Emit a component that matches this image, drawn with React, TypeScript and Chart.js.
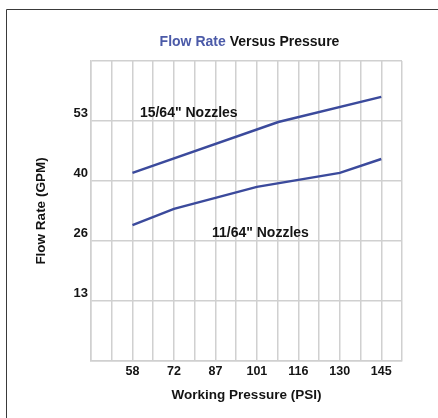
import React, { useEffect, useRef } from 'react';
import { Chart, registerables } from 'chart.js';

Chart.register(...registerables);

// ---- data ----
const xTickLabels = ['58', '72', '87', '101', '116', '130', '145'];
const yTickLabels = ['13', '26', '40', '53'];
const xStep = 7.25; // PSI per grid column
const xMin = 43.5;
const xGridCount = 15;
const yStep = 40 / 3; // GPM per grid row
const yGridCount = 5;

const upperPsi = [58, 109, 145];
const upperGpm = [41.8, 53.1, 58.7];
const lowerPsi = [58, 72.5, 101.5, 130.5, 145];
const lowerGpm = [30.2, 33.8, 38.7, 41.8, 44.9];

const seriesNames = ['15/64" Nozzles', '11/64" Nozzles'];
const labelPsi = [60.6, 85.8];
const labelGpm = [55.1, 28.4];

const titleParts = ['Flow Rate', 'Versus Pressure'];
const xTitle = 'Working Pressure (PSI)';
const yTitle = 'Flow Rate (GPM)';

const FONT = '"Liberation Sans", Arial, Helvetica, sans-serif';
const LINE_COLOR = '#3b4a9c';
const GRID_COLOR = '#d0d0d0';
const TEXT_COLOR = '#141414';

const decorPlugin = {
  id: 'decor',
  beforeDraw(chart: any) {
    const ctx = chart.ctx;
    ctx.save();
    ctx.fillStyle = '#ffffff';
    ctx.fillRect(0, 0, chart.width, chart.height);
    ctx.strokeStyle = '#3a3a3a';
    ctx.lineWidth = 1;
    ctx.beginPath();
    ctx.moveTo(6.5, chart.height);
    ctx.lineTo(6.5, 9.5);
    ctx.lineTo(chart.width, 9.5);
    ctx.stroke();
    ctx.restore();
  },
  afterDraw(chart: any) {
    const ctx = chart.ctx;
    const { chartArea } = chart;
    ctx.save();
    // title with two colours
    ctx.font = `bold 14px ${FONT}`;
    ctx.textBaseline = 'middle';
    ctx.textAlign = 'left';
    const w1 = ctx.measureText(titleParts[0] + ' ').width;
    const w2 = ctx.measureText(titleParts[1]).width;
    const cx = (chartArea.left + chartArea.right) / 2 + 3;
    const startX = cx - (w1 + w2) / 2;
    ctx.fillStyle = '#4b5aa8';
    ctx.fillText(titleParts[0], startX, 42);
    ctx.fillStyle = TEXT_COLOR;
    ctx.fillText(titleParts[1], startX + w1, 42);
    // series labels
    const xs = chart.scales.x;
    const ys = chart.scales.y;
    ctx.font = `bold 14px ${FONT}`;
    ctx.fillStyle = TEXT_COLOR;
    seriesNames.forEach((name, i) => {
      ctx.fillText(name, xs.getPixelForValue(labelPsi[i]), ys.getPixelForValue(labelGpm[i]));
    });
    ctx.restore();
  },
};

export default function App() {
  const ref = useRef<HTMLCanvasElement | null>(null);

  useEffect(() => {
    if (!ref.current) return;
    const chart = new Chart(ref.current, {
      type: 'line',
      data: {
        datasets: [
          {
            label: seriesNames[0],
            data: upperPsi.map((x, i) => ({ x, y: upperGpm[i] })),
            borderColor: LINE_COLOR,
            borderWidth: 2.5,
            pointRadius: 0,
            tension: 0,
          },
          {
            label: seriesNames[1],
            data: lowerPsi.map((x, i) => ({ x, y: lowerGpm[i] })),
            borderColor: LINE_COLOR,
            borderWidth: 2.5,
            pointRadius: 0,
            tension: 0,
          },
        ],
      },
      options: {
        animation: false,
        responsive: false,
        devicePixelRatio: 1,
        layout: { padding: { top: 61, right: 36, left: 0, bottom: 0 } },
        plugins: {
          legend: { display: false },
          tooltip: { enabled: false },
          title: { display: false },
        },
        scales: {
          x: {
            type: 'linear',
            min: xMin,
            max: xMin + xGridCount * xStep,
            afterBuildTicks: (scale: any) => {
              scale.ticks = Array.from({ length: xGridCount + 1 }, (_, i) => ({ value: xMin + i * xStep }));
            },
            afterFit: (scale: any) => {
              scale.height = 57;
            },
            grid: { color: GRID_COLOR, lineWidth: 1.5, drawTicks: false },
            border: { color: GRID_COLOR, width: 1.5 },
            ticks: {
              autoSkip: false,
              maxRotation: 0,
              padding: 3,
              color: TEXT_COLOR,
              font: { family: FONT, size: 12.5, weight: 'bold' },
              callback: (_v: any, index: number) =>
                index >= 2 && index % 2 === 0 && (index - 2) / 2 < xTickLabels.length
                  ? xTickLabels[(index - 2) / 2]
                  : '',
            },
            title: {
              display: true,
              text: xTitle,
              color: TEXT_COLOR,
              font: { family: FONT, size: 13.5, weight: 'bold' },
              padding: { top: 0, bottom: 15 },
            },
          },
          y: {
            type: 'linear',
            min: 0,
            max: yGridCount * yStep,
            afterBuildTicks: (scale: any) => {
              scale.ticks = Array.from({ length: yGridCount + 1 }, (_, i) => ({ value: i * yStep }));
            },
            afterFit: (scale: any) => {
              scale.width = 91;
            },
            grid: { color: GRID_COLOR, lineWidth: 1.5, drawTicks: false },
            border: { color: GRID_COLOR, width: 1.5 },
            ticks: {
              autoSkip: false,
              padding: 3,
              labelOffset: -8,
              color: TEXT_COLOR,
              font: { family: FONT, size: 13, weight: 'bold' },
              callback: (_v: any, index: number) =>
                index >= 1 && index <= yTickLabels.length ? yTickLabels[index - 1] : '',
            },
            title: {
              display: true,
              text: yTitle,
              color: TEXT_COLOR,
              font: { family: FONT, size: 13.5, weight: 'bold' },
              padding: { top: 33, bottom: 0 },
            },
          },
        },
      } as any,
      plugins: [decorPlugin],
    });
    return () => chart.destroy();
  }, []);

  return (
    <div style={{ position: 'fixed', left: 0, top: 0, width: 438, height: 418, background: '#fff' }}>
      <canvas ref={ref} width={438} height={418} style={{ display: 'block' }} />
    </div>
  );
}
